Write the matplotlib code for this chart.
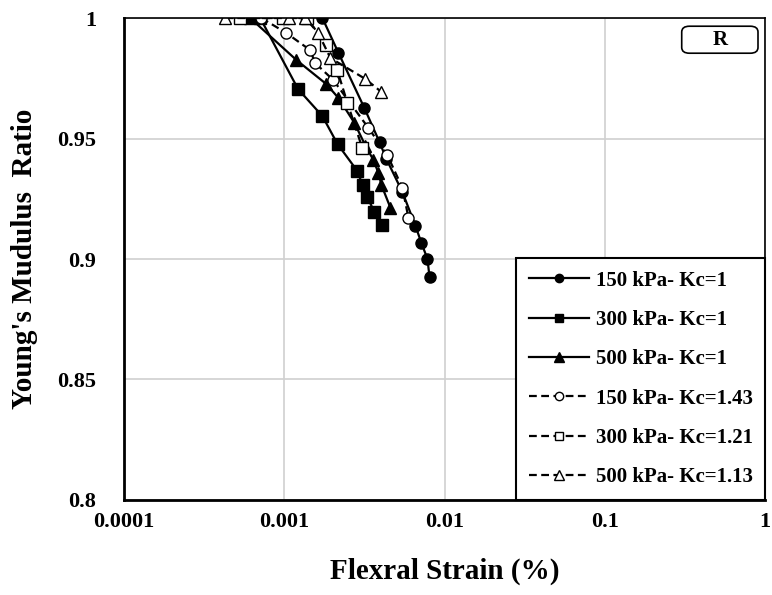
import numpy as np
import matplotlib.pyplot as plt
from matplotlib.patches import FancyBboxPatch

# ---- data ----
s150_x = [0.00173, 0.00218, 0.00316, 0.00393, 0.00434, 0.00546, 0.00659, 0.00718, 0.00783, 0.00806]
s150_y = [1.000, 0.9855, 0.9627, 0.9485, 0.9415, 0.9278, 0.9137, 0.9066, 0.9000, 0.8925]

s300_x = [0.000708, 0.00122, 0.00173, 0.00215, 0.00286, 0.00308, 0.00330, 0.00365, 0.00410]
s300_y = [1.000, 0.9705, 0.9593, 0.9477, 0.9365, 0.9307, 0.9257, 0.9195, 0.9140]

s500_x = [0.000613, 0.00119, 0.00183, 0.00218, 0.00274, 0.00321, 0.00360, 0.00387, 0.00404, 0.00460]
s500_y = [1.000, 0.9826, 0.9726, 0.9668, 0.9565, 0.9470, 0.9411, 0.9357, 0.9307, 0.9212]

k150_x = [0.00072, 0.00103, 0.00145, 0.00156, 0.00202, 0.00335, 0.00440, 0.00546, 0.00596]
k150_y = [1.000, 0.9938, 0.9867, 0.9813, 0.9743, 0.9544, 0.9431, 0.9295, 0.9170]

k300_x = [0.000531, 0.000986, 0.00139, 0.00183, 0.00214, 0.00248, 0.00307]
k300_y = [1.000, 1.000, 1.000, 0.9888, 0.9784, 0.9647, 0.9460]

k500_x = [0.000428, 0.00107, 0.00135, 0.00163, 0.00194, 0.00321, 0.00404]
k500_y = [1.000, 1.000, 1.000, 0.9938, 0.9834, 0.9747, 0.9693]

labels = ['150 kPa- Kc=1', '300 kPa- Kc=1', '500 kPa- Kc=1',
          '150 kPa- Kc=1.43', '300 kPa- Kc=1.21', '500 kPa- Kc=1.13']

plt.rcParams['font.family'] = ['Liberation Serif', 'DejaVu Serif']
plt.rcParams['font.weight'] = 'bold'

fig = plt.figure(figsize=(7.72, 5.95), dpi=100)
ax = fig.add_axes([0.1606, 0.1597, 0.8304, 0.81])

dash = (0, (3.5, 2))
ax.plot(s150_x, s150_y, '-', color='black', lw=1.6, marker='o', ms=8, mfc='black', mec='black', label=labels[0])
ax.plot(s300_x, s300_y, '-', color='black', lw=1.6, marker='s', ms=8, mfc='black', mec='black', label=labels[1])
ax.plot(s500_x, s500_y, '-', color='black', lw=1.6, marker='^', ms=9, mfc='black', mec='black', label=labels[2])
ax.plot(k150_x, k150_y, linestyle=dash, color='black', lw=1.6, marker='o', ms=8, mfc='white', mec='black', mew=1.0, label=labels[3])
ax.plot(k300_x, k300_y, linestyle=dash, color='black', lw=1.6, marker='s', ms=8, mfc='white', mec='black', mew=1.0, label=labels[4])
ax.plot(k500_x, k500_y, linestyle=dash, color='black', lw=1.6, marker='^', ms=9, mfc='white', mec='black', mew=1.0, label=labels[5])

ax.set_xscale('log')
ax.set_xlim(0.0001, 1)
ax.set_ylim(0.8, 1.0)
ax.set_xticks([0.0001, 0.001, 0.01, 0.1, 1])
ax.set_xticklabels(['0.0001', '0.001', '0.01', '0.1', '1'])
ax.set_yticks([0.8, 0.85, 0.9, 0.95, 1.0])
ax.set_yticklabels(['0.8', '0.85', '0.9', '0.95', '1'])
ax.minorticks_off()
ax.grid(True, color='#d0d0d0', lw=1.2)
ax.set_axisbelow(True)
ax.tick_params(length=0, labelsize=16, pad=9)
ax.tick_params(axis='y', pad=20)
for sp in ax.spines.values():
    sp.set_linewidth(2)
ax.spines['top'].set_linewidth(1.2)
ax.spines['right'].set_linewidth(1.2)

ax.set_xlabel('Flexral Strain (%)', fontsize=21, fontweight='bold', labelpad=18)
ax.set_ylabel("Young's Mudulus  Ratio", fontsize=21, fontweight='bold', labelpad=14)

leg = ax.legend(loc='lower right', bbox_to_anchor=(1.0, 0.0), fontsize=15, frameon=True,
                fancybox=False, edgecolor='black', framealpha=1, handlelength=2.9,
                labelspacing=0.93, borderpad=0.6, handletextpad=0.3, borderaxespad=0,
                markerscale=0.75)
leg.get_frame().set_linewidth(1.5)

box = FancyBboxPatch((0.870, 0.927), 0.119, 0.056, boxstyle='round,pad=0,rounding_size=0.012',
                     transform=ax.transAxes, fc='white', ec='black', lw=1.2)
ax.add_patch(box)
ax.text(0.9295, 0.955, 'R', transform=ax.transAxes, ha='center', va='center',
        fontsize=15, fontweight='bold')

fig.savefig('out.png', dpi=100)
